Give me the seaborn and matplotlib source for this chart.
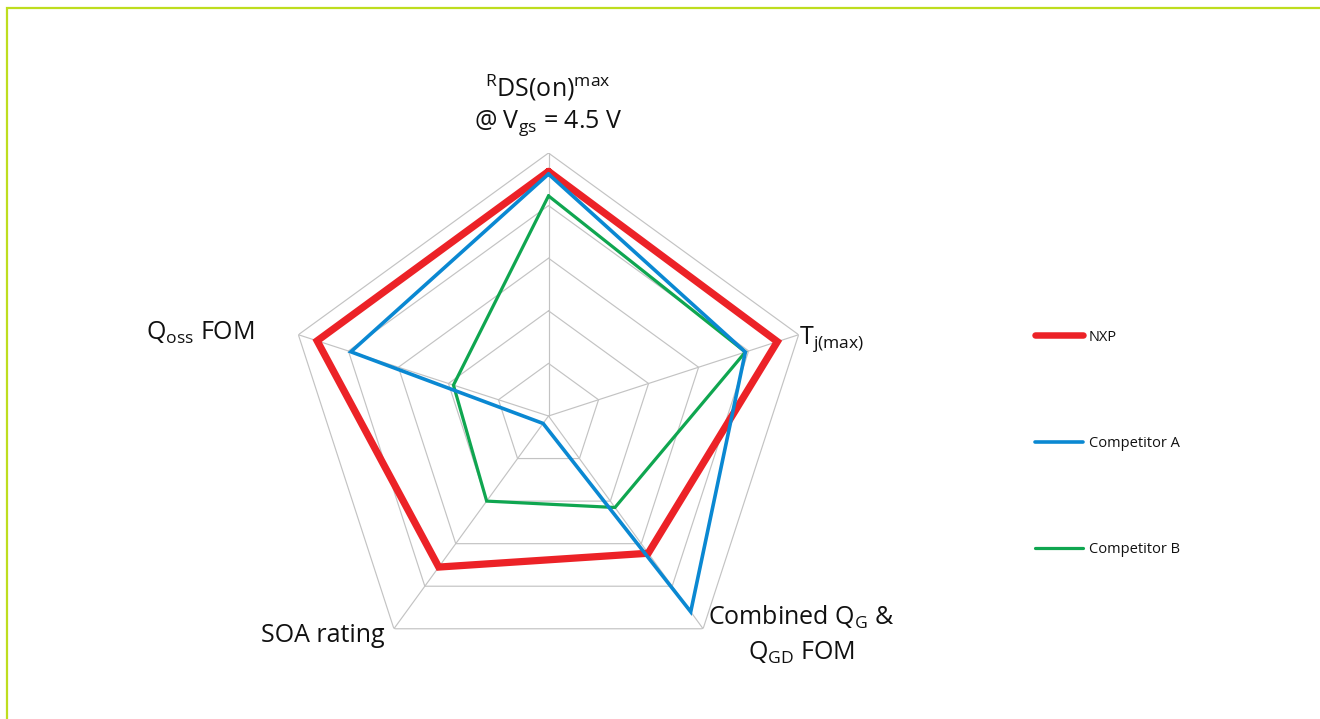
import numpy as np
import pandas as pd
import matplotlib
matplotlib.use("Agg")
import matplotlib.pyplot as plt
import seaborn as sns
from matplotlib.lines import Line2D
from matplotlib.patches import Rectangle

sns.set_style("white")
plt.rcParams['font.family'] = ['Open Sans', 'DejaVu Sans']
plt.rcParams['mathtext.fontset'] = 'custom'
plt.rcParams['mathtext.rm'] = 'Open Sans'
plt.rcParams['mathtext.it'] = 'Open Sans:italic'
plt.rcParams['mathtext.bf'] = 'Open Sans:bold'

# ---- data ----
categories = ["RDS(on)max", "Tj(max)", "Combined QG & QGD FOM", "SOA rating", "Qoss FOM"]
nxp = [0.93, 0.915, 0.645, 0.71, 0.925]
competitor_a = [0.92, 0.787, 0.92, 0.035, 0.79]
competitor_b = [0.837, 0.787, 0.43, 0.40, 0.38]
series_names = ["NXP", "Competitor A", "Competitor B"]
rings = [0.2, 0.4, 0.6, 0.8, 1.0]

colors = {"NXP": "#ec2227", "Competitor A": "#0a88d2", "Competitor B": "#0fa650"}
widths = {"NXP": 5.2, "Competitor A": 2.6, "Competitor B": 2.3}

W, H = 1320, 719
fig = plt.figure(figsize=(W / 100, H / 100), dpi=100)

cx, cy, R = 548.5, 416.0, 263.0
ax = fig.add_axes([(cx - R) / W, (H - cy - R) / H, 2 * R / W, 2 * R / H], projection='polar')
ax.set_theta_zero_location('N')
ax.set_theta_direction(-1)
ax.set_ylim(0, 1)
ax.grid(False)
ax.spines['polar'].set_visible(False)
ax.set_xticks([])
ax.set_yticks([])
ax.patch.set_alpha(0)

n = len(categories)
angles = np.linspace(0, 2 * np.pi, n, endpoint=False)
closed = np.append(angles, angles[0])

# polygon grid
for r in rings:
    ax.plot(closed, [r] * (n + 1), color="#c3c3c3", lw=0.85, zorder=1)
for a in angles:
    ax.plot([a, a], [0, 1], color="#c3c3c3", lw=0.85, zorder=1)

rows = []
for name, vals in zip(series_names, [nxp, competitor_a, competitor_b]):
    vv = list(vals) + [vals[0]]
    for i, (t, v) in enumerate(zip(closed, vv)):
        rows.append({"series": name, "theta": t, "r": v, "order": i})
df = pd.DataFrame(rows)

for name in reversed(series_names):
    sub = df[df["series"] == name]
    sns.lineplot(data=sub, x="theta", y="r", sort=False, color=colors[name],
                 lw=widths[name], ax=ax, estimator=None, legend=False,
                 zorder=3 if name != "NXP" else 2, solid_joinstyle='miter')
ax.set_xlabel("")
ax.set_ylabel("")
ax.set_ylim(0, 1)

# axis labels
fs = 18
def ftxt(x, y, s, **kw):
    fig.text(x / W, 1 - y / H, s, fontsize=fs, color="#111111", **kw)

ftxt(548, 88, r"$^{\mathregular{R}}$DS(on)$^{\mathregular{max}}$", ha='center', va='center')
ftxt(548, 123, r"@ V$_{\mathregular{gs}}$ = 4.5 V", ha='center', va='center')
ftxt(799, 339, r"T$_{\mathregular{j(max)}}$", ha='left', va='center')
ftxt(801, 617, r"Combined Q$_{\mathregular{G}}$ &", ha='center', va='center')
ftxt(801, 653, r"Q$_{\mathregular{GD}}$ FOM", ha='center', va='center')
ftxt(323, 635, "SOA rating", ha='center', va='center')
ftxt(200, 333, r"Q$_{\mathregular{oss}}$ FOM", ha='center', va='center')

# legend
handles = [Line2D([0], [0], color=colors[s], lw=widths[s] * (0.9 if s == "NXP" else 1.0),
                  solid_capstyle='round') for s in series_names]
leg = fig.legend(handles, series_names, loc='upper left',
                 bbox_to_anchor=(1035 / W, 1 - 329.5 / H), frameon=False,
                 fontsize=10.5, handlelength=3.3, handletextpad=0.4,
                 labelspacing=6.25, borderpad=0, borderaxespad=0)
for t in leg.get_texts():
    t.set_color("#111111")

# frame
fig.patches.append(Rectangle((7 / W, -0.1), 1.2, 1 - 8 / H + 0.1, transform=fig.transFigure,
                             fill=False, edgecolor="#bedd1e", lw=1.6, zorder=0))

fig.savefig("out.png", dpi=100)
